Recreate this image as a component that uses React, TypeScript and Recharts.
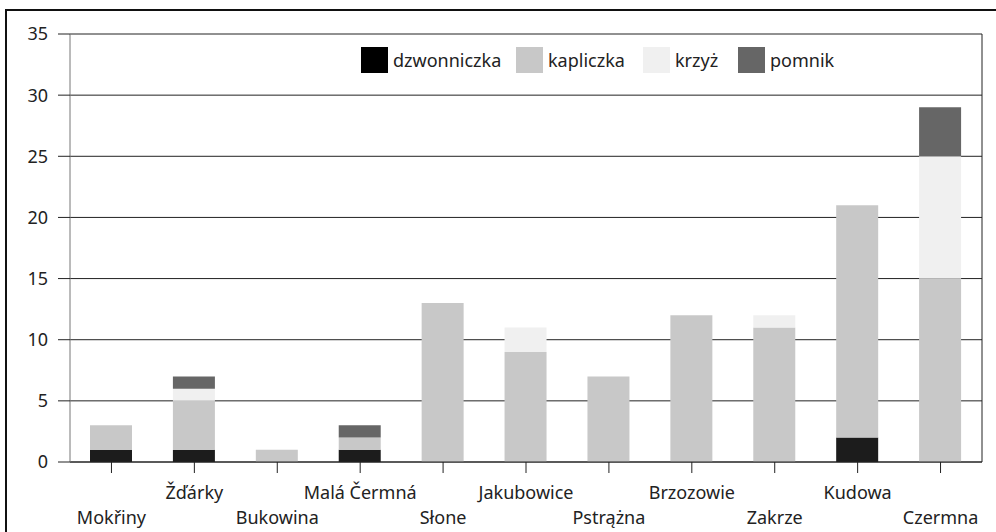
import { BarChart, Bar, XAxis, YAxis, CartesianGrid, Legend } from "recharts"

const places = [
  "Mokřiny",
  "Žďárky",
  "Bukowina",
  "Malá Čermná",
  "Słone",
  "Jakubowice",
  "Pstrążna",
  "Brzozowie",
  "Zakrze",
  "Kudowa",
  "Czermna",
]
const dzwonniczka = [1, 1, 0, 1, 0, 0, 0, 0, 0, 2, 0]
const kapliczka = [2, 4, 1, 1, 13, 9, 7, 12, 11, 19, 15]
const krzyz = [0, 1, 0, 0, 0, 2, 0, 0, 1, 0, 10]
const pomnik = [0, 1, 0, 1, 0, 0, 0, 0, 0, 0, 4]
const yTicks = [0, 5, 10, 15, 20, 25, 30, 35]

const data = places.map((place, i) => ({
  place,
  dzwonniczka: dzwonniczka[i],
  kapliczka: kapliczka[i],
  krzyz: krzyz[i],
  pomnik: pomnik[i],
}))

const FONT = "'Noto Sans', sans-serif"
const legendSlots = [155, 127, 95, 110]

// labels alternate between two rows so the long names don't collide
function PlaceTick(props: any) {
  const { x, y, payload, index } = props
  const lower = index % 2 === 0
  return (
    <text
      x={x}
      y={y + (lower ? 49 : 24)}
      textAnchor="middle"
      fontFamily={FONT}
      fontSize={18}
      fill="#222"
    >
      {payload.value}
    </text>
  )
}

function KeyBox(props: any) {
  const { payload } = props
  return (
    <div style={{ display: "flex", alignItems: "center", fontFamily: FONT, fontSize: 18, color: "#222" }}>
      {payload.map((p: any, i: number) => (
        <div key={p.value} style={{ display: "flex", alignItems: "center", width: legendSlots[i] }}>
          <span
            style={{
              width: 27,
              height: 26,
              background: p.dataKey === "dzwonniczka" ? "#000" : p.color,
              display: "inline-block",
              marginRight: 5,
              flexShrink: 0,
            }}
          />
          <span>{p.value}</span>
        </div>
      ))}
    </div>
  )
}

export default function App() {
  return (
    <div style={{ position: "fixed", left: 0, top: 0, width: 996, height: 532, background: "#fff", overflow: "hidden" }}>
      <div
        style={{
          position: "absolute",
          left: 5,
          top: 9,
          width: 1100,
          height: 600,
          border: "2px solid #111",
        }}
      />
      <div style={{ position: "absolute", left: 0, top: 0 }}>
        <BarChart
          width={996}
          height={532}
          data={data}
          margin={{ top: 34, right: 14, bottom: 40, left: 0 }}
          barSize={42}
        >
          <CartesianGrid
            horizontal
            vertical
            stroke="#222"
            verticalCoordinatesGenerator={({ offset }: any) => [offset.left + offset.width]}
          />
          <XAxis
            dataKey="place"
            height={30}
            interval={0}
            tickSize={11}
            tickLine={{ stroke: "#222" }}
            axisLine={{ stroke: "#222" }}
            tick={<PlaceTick />}
          />
          <YAxis
            width={70}
            domain={[0, 35]}
            ticks={yTicks}
            interval={0}
            tickSize={12}
            tickMargin={10}
            tickLine={{ stroke: "#222" }}
            axisLine={{ stroke: "#777" }}
            tick={{ fontFamily: FONT, fontSize: 18, fill: "#222" }}
          />
          <Legend
            verticalAlign="middle"
            align="center"
            layout="horizontal"
            wrapperStyle={{ top: 47, left: 361, width: "auto", height: 26 }}
            content={<KeyBox />}
          />
          <Bar dataKey="dzwonniczka" name="dzwonniczka" stackId="a" fill="#1c1c1c" isAnimationActive={false} />
          <Bar dataKey="kapliczka" name="kapliczka" stackId="a" fill="#c8c8c8" isAnimationActive={false} />
          <Bar dataKey="krzyz" name="krzyż" stackId="a" fill="#f0f0f0" isAnimationActive={false} />
          <Bar dataKey="pomnik" name="pomnik" stackId="a" fill="#666666" isAnimationActive={false} />
        </BarChart>
      </div>
    </div>
  )
}
